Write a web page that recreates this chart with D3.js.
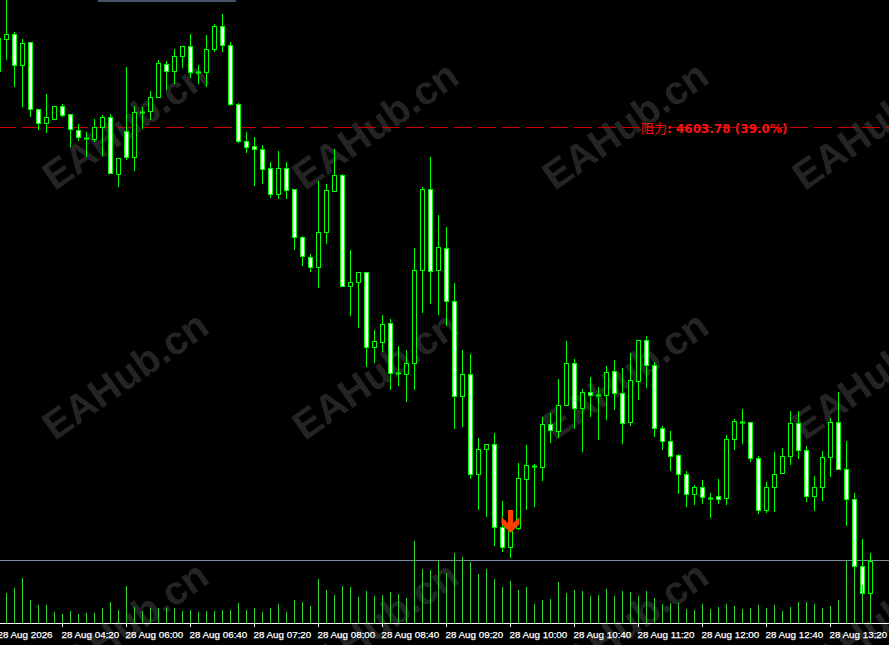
<!DOCTYPE html>
<html><head><meta charset="utf-8">
<script src="https://cdn.jsdelivr.net/npm/d3@7"></script>
<style>
html,body{margin:0;padding:0;background:#000;overflow:hidden}
svg{display:block}
</style></head>
<body>
<script>
// ---- data (bar index starts at -1) ----
const firstBar = -1;
const openP = [4609.40,4612.63,4613.07,4609.97,4612.27,4605.57,4604.23,4604.63,4605.87,4605.07,4603.53,4602.73,4602.63,4603.77,4604.77,4599.07,4603.37,4600.77,4605.27,4605.37,4606.83,4610.07,4609.37,4610.87,4611.87,4609.27,4609.27,4611.57,4613.87,4611.97,4606.07,4602.37,4601.87,4601.57,4599.67,4597.07,4599.67,4597.57,4592.77,4590.83,4589.77,4593.27,4597.43,4598.97,4587.87,4588.27,4589.27,4581.83,4582.33,4584.17,4579.17,4579.07,4580.17,4589.47,4597.57,4589.47,4591.67,4586.37,4576.93,4579.07,4569.07,4571.57,4572.07,4563.77,4561.77,4563.67,4568.63,4569.93,4569.83,4574.07,4573.37,4575.97,4580.17,4575.67,4577.27,4577.03,4577.03,4579.37,4577.17,4574.27,4578.37,4582.50,4579.97,4573.67,4572.35,4570.97,4569.07,4567.13,4567.77,4566.73,4566.90,4566.73,4572.57,4574.30,4574.27,4570.67,4565.50,4567.77,4569.17,4570.93,4574.17,4571.47,4566.87,4567.83,4570.83,4574.27,4569.63,4566.57,4559.90,4557.17];
const highP = [4612.70,4616.70,4613.30,4612.57,4612.30,4605.60,4607.10,4605.90,4606.10,4605.10,4604.10,4603.27,4604.60,4605.00,4605.07,4600.70,4609.77,4605.90,4605.80,4607.40,4610.50,4610.37,4611.57,4611.87,4613.10,4610.00,4613.00,4614.10,4615.10,4612.27,4606.17,4603.30,4602.77,4601.97,4600.30,4601.40,4600.27,4597.60,4592.87,4591.07,4598.40,4598.07,4601.60,4599.10,4591.50,4589.27,4589.30,4583.47,4585.00,4584.60,4581.90,4581.50,4591.67,4597.77,4600.80,4595.00,4593.80,4588.20,4581.50,4581.10,4572.67,4572.07,4573.17,4566.37,4565.50,4570.17,4571.97,4570.10,4574.77,4575.20,4578.57,4582.37,4580.57,4577.57,4578.77,4577.77,4579.90,4580.47,4579.67,4581.17,4582.50,4582.90,4580.33,4573.87,4573.38,4571.07,4569.38,4568.00,4568.50,4567.17,4568.60,4573.00,4574.60,4575.60,4574.30,4570.87,4568.27,4571.30,4571.73,4575.37,4575.43,4571.90,4568.87,4571.43,4574.70,4577.30,4572.40,4567.17,4562.57,4561.17];
const lowP = [4609.40,4610.63,4607.93,4605.93,4604.93,4603.63,4603.33,4604.60,4604.93,4601.93,4602.50,4600.93,4602.40,4601.00,4599.17,4597.93,4600.57,4599.50,4603.73,4604.57,4606.83,4607.57,4608.17,4609.83,4608.83,4608.20,4607.90,4611.43,4611.43,4605.97,4602.27,4601.33,4598.03,4598.17,4596.80,4596.70,4596.73,4591.63,4590.00,4589.43,4587.83,4592.23,4597.43,4587.90,4585.00,4583.83,4579.93,4580.33,4581.43,4577.57,4578.03,4576.43,4577.57,4585.33,4586.23,4585.10,4584.00,4573.73,4573.93,4568.67,4565.57,4564.90,4562.00,4561.43,4560.80,4563.57,4565.60,4565.93,4568.50,4572.33,4572.83,4575.97,4573.73,4571.43,4574.90,4572.57,4574.63,4575.63,4572.17,4574.00,4576.57,4577.83,4572.95,4571.63,4569.52,4567.23,4565.93,4566.13,4566.23,4564.83,4566.23,4566.13,4571.57,4572.23,4570.43,4565.17,4565.27,4565.37,4569.17,4570.07,4570.67,4566.43,4565.53,4566.53,4568.93,4569.57,4564.00,4559.50,4556.50,4556.50];
const closeP = [4612.70,4613.10,4609.97,4612.17,4605.57,4604.23,4604.77,4605.87,4605.03,4603.57,4602.77,4602.73,4603.77,4604.77,4599.17,4600.67,4600.77,4605.27,4605.27,4606.83,4610.17,4609.37,4610.87,4611.87,4609.27,4609.27,4611.57,4613.90,4611.97,4606.07,4602.37,4601.83,4601.57,4599.57,4597.07,4599.67,4597.50,4592.77,4590.87,4589.77,4593.27,4597.47,4598.97,4587.90,4588.27,4589.27,4581.83,4582.37,4584.10,4579.17,4579.17,4580.17,4589.47,4597.57,4589.37,4591.77,4586.37,4576.93,4579.07,4569.07,4571.57,4572.07,4563.83,4561.77,4563.50,4568.67,4569.97,4569.93,4574.07,4573.47,4575.97,4580.17,4575.67,4577.27,4576.97,4577.03,4579.27,4577.17,4574.17,4578.47,4582.50,4579.97,4573.67,4572.35,4570.95,4569.07,4567.07,4567.77,4566.77,4566.73,4566.57,4572.57,4574.37,4574.30,4570.67,4565.50,4567.77,4569.13,4570.93,4574.17,4571.47,4566.87,4567.83,4570.83,4574.27,4569.57,4566.60,4559.90,4557.17,4560.43];
const volumes = [200,303,350,450,230,180,180,110,90,120,90,100,100,150,210,130,370,160,120,150,150,150,150,120,130,110,120,120,130,130,200,130,150,110,150,190,110,230,210,170,440,330,280,370,360,260,320,270,280,310,290,250,820,540,530,620,500,700,660,610,490,540,440,360,420,330,360,190,230,240,410,300,330,320,270,280,340,270,320,310,270,320,250,190,200,200,140,130,190,140,160,190,170,140,150,180,150,180,120,160,210,210,190,150,170,230,620,520,380,280];
const tickBars = [-1,7,15,23,31,39,47,55,63,71,79,87,95,103];
const tickLabels = ["28 Aug 2026","28 Aug 04:20","28 Aug 06:00","28 Aug 06:40","28 Aug 07:20","28 Aug 08:00","28 Aug 08:40","28 Aug 09:20","28 Aug 10:00","28 Aug 10:40","28 Aug 11:20","28 Aug 12:00","28 Aug 12:40","28 Aug 13:20"];
const resistancePrice = 4603.78;
const resistanceLabelPrefix = "阻力";
const resistanceLabelRest = ": 4603.78 (39.0%)";
const signalBar = 63;
const signalPrice = 4563.17;
const watermarkText = "EAHub.cn";

// ---- layout ----
const W = 889, H = 645;
const svg = d3.select("body").append("svg").attr("width", W).attr("height", H)
  .style("background", "#000");

const x = d3.scaleLinear().domain([-1, 108]).range([-2, 870]);
const y = d3.scaleLinear().domain([4616.50, 4560.50]).range([0, 560]);
const v = d3.scaleLinear().domain([0, 1000]).range([623, 523]);

// watermark
const wm = svg.append("g");
for (let gx = 125; gx < W + 250; gx += 250) {
  for (let gy = 125; gy < H + 250; gy += 250) {
    wm.append("text").attr("transform", `translate(${gx},${gy}) rotate(-35)`)
      .attr("text-anchor", "middle").attr("dominant-baseline", "central")
      .attr("font-family", "Liberation Sans, Arial, sans-serif").attr("font-weight", "bold")
      .attr("font-size", 40).attr("fill", "#242424").text(watermarkText);
  }
}

// top panel remnant
svg.append("rect").attr("x", 98).attr("y", 0).attr("width", 138).attr("height", 2).attr("fill", "#48536a");

// resistance line + label
const ry = Math.round(y(resistancePrice)) + 0.5;
svg.append("line").attr("x1", 0).attr("x2", W).attr("y1", ry).attr("y2", ry)
  .attr("stroke", "#c80000").attr("stroke-width", 1).attr("stroke-dasharray", "18,6").attr("stroke-dashoffset", 2);
const lbl = svg.append("text").attr("x", 641).attr("y", ry + 5).attr("fill", "#ff1010");
lbl.append("tspan").attr("font-family", "Noto Sans CJK SC, sans-serif").attr("font-size", 13).text(resistanceLabelPrefix);
lbl.append("tspan").attr("font-family", "DejaVu Sans, sans-serif").attr("font-weight", "bold").attr("font-size", 12).text(resistanceLabelRest);

// gray horizontal line
svg.append("line").attr("x1", 0).attr("x2", W).attr("y1", 560.5).attr("y2", 560.5).attr("stroke", "#7d8da0").attr("stroke-width", 1);

// candles
const bars = openP.map((o, k) => ({i: k + firstBar, o, h: highP[k], l: lowP[k], c: closeP[k], vol: volumes[k]}));
const cg = svg.append("g");
bars.forEach(b => {
  const cx = Math.round(x(b.i));
  const yh = Math.round(y(b.h)), yl = Math.round(y(b.l));
  const yo = Math.round(y(b.o)), yc = Math.round(y(b.c));
  cg.append("line").attr("x1", cx + 0.5).attr("x2", cx + 0.5).attr("y1", yh).attr("y2", yl + 1)
    .attr("stroke", "#00ff00").attr("stroke-width", 1);
  const top = Math.min(yo, yc), bot = Math.max(yo, yc);
  if (bot - top < 1) {
    cg.append("line").attr("x1", cx - 2).attr("x2", cx + 3).attr("y1", top + 0.5).attr("y2", top + 0.5)
      .attr("stroke", "#00ff00").attr("stroke-width", 2);
  } else {
    cg.append("rect").attr("x", cx - 1.5).attr("y", top + 0.5).attr("width", 4).attr("height", bot - top)
      .attr("fill", b.c < b.o ? "#ffffff" : "#000000").attr("stroke", "#00ff00").attr("stroke-width", 1);
  }
});

// volumes
const vg = svg.append("g");
bars.forEach(b => {
  const cx = Math.round(x(b.i));
  vg.append("line").attr("x1", cx + 0.5).attr("x2", cx + 0.5).attr("y1", Math.round(v(b.vol))).attr("y2", 623)
    .attr("stroke", "#2ed62e").attr("stroke-width", 1);
});

// signal arrow
const ax = Math.round(x(signalBar)) + 0.5, at = Math.round(y(signalPrice));
svg.append("path").attr("fill", "#ff4000")
  .attr("d", `M${ax-2.5},${at-23} L${ax+2.5},${at-23} L${ax+2.5},${at-10} L${ax+9},${at-16} L${ax+9},${at-9} L${ax},${at} L${ax-9},${at-9} L${ax-9},${at-16} L${ax-2.5},${at-10} Z`);

// x axis
svg.append("line").attr("x1", 0).attr("x2", W).attr("y1", 623.5).attr("y2", 623.5).attr("stroke", "#ffffff");
const axis = d3.axisBottom(x).tickValues(tickBars).tickSize(4).tickPadding(2)
  .tickFormat((d, k) => tickLabels[k]);
const ag = svg.append("g").attr("transform", "translate(0,623)").call(axis);
ag.select(".domain").remove();
ag.selectAll(".tick line").attr("stroke", "#ffffff");
ag.selectAll(".tick text").attr("fill", "#ffffff").attr("text-anchor", "start").attr("dx", -1)
  .attr("font-family", "Liberation Sans, Arial, sans-serif").attr("font-size", 9.8).attr("dy", "0.9em")
  .attr("stroke", "#ffffff").attr("stroke-width", 0.25);
</script>
</body></html>
